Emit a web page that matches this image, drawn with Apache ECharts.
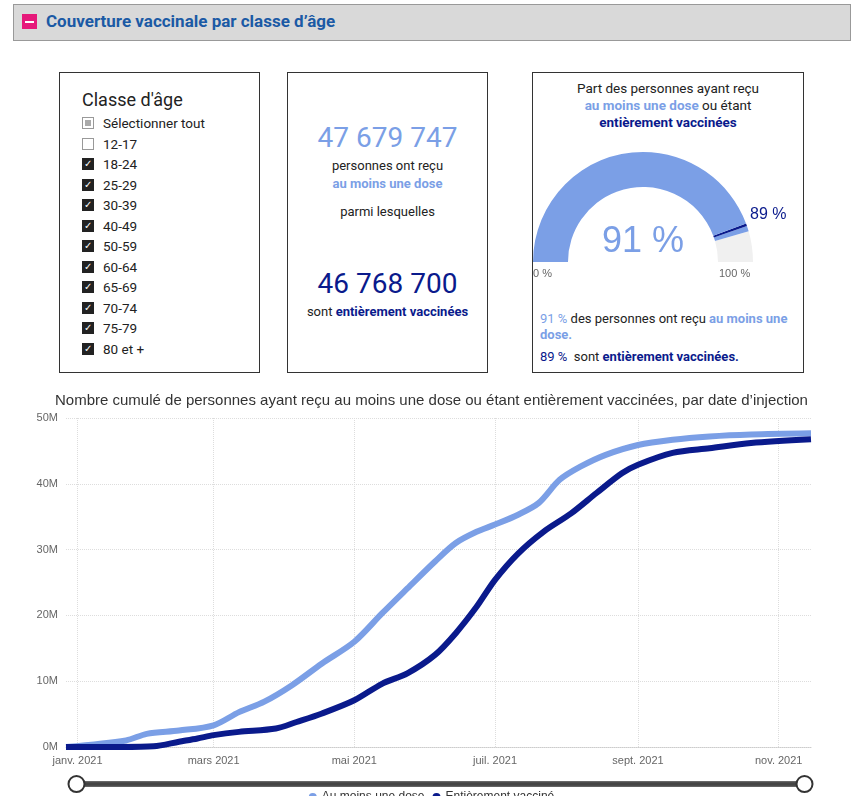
<!DOCTYPE html>
<html><head><meta charset="utf-8">
<script src="https://cdn.jsdelivr.net/npm/echarts@6/dist/echarts.min.js"></script>
<style>
body{margin:0;width:863px;height:796px;overflow:hidden;background:#fff;font-family:Roboto,"Liberation Sans",Arial,sans-serif;position:relative}
.abs{position:absolute}
.box{position:absolute;border:1px solid #333;box-sizing:border-box;background:#fff}
.lb{color:#7b9fe6}.db{color:#0a1a8c}
.cb{display:flex;align-items:center;height:20.5px;font-size:13.5px;color:#222}
.sq{width:12px;height:12px;border:1px solid #999;margin-right:9px;box-sizing:border-box;display:flex;align-items:center;justify-content:center}
.ck{background:#222;border-color:#222;color:#fff;font-size:10px;line-height:10px}
</style></head><body>
<div class="abs" style="left:13px;top:4px;width:838px;height:37px;background:#d9d9d9;border:1px solid #999;box-sizing:border-box"></div>
<div class="abs" style="left:22px;top:14px;width:15px;height:15px;background:#e6197a"><div style="position:absolute;left:3px;top:7px;width:9px;height:1.5px;background:#fff"></div></div>
<div class="abs" style="left:46px;top:11px;font-size:17px;font-weight:bold;color:#1b5aa5">Couverture vaccinale par classe d’âge</div>

<div class="box" style="left:59px;top:72px;width:201px;height:301px"></div>
<div class="abs" style="left:82px;top:89px;font-size:18px;color:#222">Classe d'âge</div>
<div class="abs" id="cbs" style="left:82px;top:113px"></div>

<div class="box" style="left:287px;top:72px;width:201px;height:301px"></div>
<div class="abs" style="left:287px;width:201px;text-align:center;top:121px;font-size:28px" ><span class="lb">47 679 747</span></div>
<div class="abs" style="left:287px;width:201px;text-align:center;top:157px;font-size:13px;color:#222;line-height:18px">personnes ont reçu<br><b class="lb">au moins une dose</b></div>
<div class="abs" style="left:287px;width:201px;text-align:center;top:204px;font-size:13px;color:#222">parmi lesquelles</div>
<div class="abs" style="left:287px;width:201px;text-align:center;top:267px;font-size:28px"><span class="db">46 768 700</span></div>
<div class="abs" style="left:287px;width:201px;text-align:center;top:304px;font-size:13px;color:#222">sont <b class="db">entièrement vaccinées</b></div>

<div class="box" style="left:532px;top:72px;width:272px;height:301px"></div>
<div class="abs" style="left:532px;width:272px;text-align:center;top:80px;font-size:13.5px;color:#222;line-height:17px">Part des personnes ayant reçu<br><b class="lb">au moins une dose</b> ou étant<br><b class="db">entièrement vaccinées</b></div>
<div id="gauge" class="abs" style="left:533px;top:140px;width:270px;height:150px"></div>
<div class="abs" style="left:540px;top:311px;font-size:13px;color:#222;line-height:16px;width:250px"><span class="lb">91 %</span> des personnes ont reçu <b class="lb">au moins une dose.</b></div>
<div class="abs" style="left:540px;top:349px;font-size:13px;color:#222"><span class="db">89 %</span>&nbsp; sont <b class="db">entièrement vaccinées.</b></div>

<div id="chart" class="abs" style="left:0;top:380px;width:863px;height:430px"></div>
<script>
var ageClasses=['12-17','18-24','25-29','30-39','40-49','50-59','60-64','65-69','70-74','75-79','80 et +'];
var ageChecked=[false,true,true,true,true,true,true,true,true,true,true];
var firstDosePct=91, fullPct=89;
var lightDates=['2020-12-27','2021-01-22','2021-01-31','2021-02-14','2021-03-01','2021-03-12','2021-03-23','2021-04-04','2021-04-17','2021-05-01','2021-05-13','2021-05-24','2021-06-05','2021-06-14','2021-06-23','2021-07-01','2021-07-11','2021-07-20','2021-07-29','2021-08-07','2021-08-18','2021-09-01','2021-09-16','2021-10-02','2021-10-20','2021-11-15'];
var lightValues=[0,1.0,2.0,2.5,3.3,5.3,6.9,9.4,12.7,16.0,20.3,24.1,28.2,31.0,32.7,33.8,35.3,37.1,40.6,42.6,44.4,45.9,46.7,47.2,47.5,47.68];
var darkDates=['2020-12-27','2021-01-20','2021-02-03','2021-02-14','2021-02-22','2021-03-01','2021-03-12','2021-03-28','2021-04-06','2021-04-17','2021-05-01','2021-05-13','2021-05-24','2021-06-05','2021-06-14','2021-06-23','2021-07-01','2021-07-11','2021-07-22','2021-08-03','2021-08-14','2021-08-25','2021-09-01','2021-09-16','2021-10-02','2021-10-20','2021-11-15'];
var darkValues=[0,0,0.1,0.8,1.3,1.8,2.3,2.8,3.8,5.1,7.1,9.6,11.2,14.0,17.3,21.3,25.4,29.4,32.7,35.5,38.6,41.6,42.9,44.7,45.4,46.2,46.77];
var monthNames=['janv.','févr.','mars','avr.','mai','juin','juil.','août','sept.','oct.','nov.','déc.'];

var h='<div class="cb"><span class="sq" style="background:#fff"><span style="width:6px;height:6px;background:#aaa;display:block"></span></span>Sélectionner tout</div>';
ageClasses.forEach(function(a,i){h+='<div class="cb"><span class="sq'+(ageChecked[i]?' ck':'')+'">'+(ageChecked[i]?'✓':'')+'</span>'+a+'</div>';});
document.getElementById('cbs').innerHTML=h;

var LB='#7b9fe6', DB='#0a1a8c';
var g=echarts.init(document.getElementById('gauge'));
var f=firstDosePct/100, d=fullPct/100;
g.setOption({series:[{type:'gauge',center:[110,122],radius:110,startAngle:180,endAngle:0,min:0,max:100,
 axisLine:{lineStyle:{width:35,color:[[d-0.004,LB],[d+0.004,DB],[f,LB],[1,'#f0f0f0']]}},
 axisTick:{show:false},splitLine:{show:false},axisLabel:{show:false},pointer:{show:false},
 title:{show:false},detail:{offsetCenter:[0,-20],fontSize:36,fontWeight:300,color:LB,formatter:'{value} %'},
 data:[{value:firstDosePct}]}],
 graphic:[
 {type:'text',left:0,top:128,style:{text:'0 %',fontSize:11,fill:'#666'}},
 {type:'text',left:186,top:128,style:{text:'100 %',fontSize:11,fill:'#666'}},
 {type:'text',left:217,top:67,style:{text:fullPct+' %',fontSize:16,fill:DB}}]});

function fmt(dt){return dt.getFullYear()+'-'+String(dt.getMonth()+1).padStart(2,'0')+'-'+String(dt.getDate()).padStart(2,'0');}
var cats=[];for(var t=new Date(2020,11,27);t<=new Date(2021,10,15);t.setDate(t.getDate()+1))cats.push(fmt(t));
function toSeries(ds,vs){var m={};ds.forEach(function(x,i){m[x]=vs[i]*1e6;});return cats.map(function(c){return c in m?m[c]:null;});}
function isTick(i){var c=cats[i];var mo=+c.slice(5,7);return c.slice(8)==='01'&&mo%2===1;}
var c=echarts.init(document.getElementById('chart'));
c.setOption({
 title:{text:'Nombre cumulé de personnes ayant reçu au moins une dose ou étant entièrement vaccinées, par date d’injection',left:50,top:8,textStyle:{fontSize:15,fontWeight:'normal',color:'#333'}},
 grid:{left:66,right:52,top:38,bottom:63},
 legend:{bottom:2,left:'center',icon:'circle',itemWidth:8,itemHeight:8,textStyle:{fontSize:12,color:'#333'},data:['Au moins une dose','Entièrement vacciné']},
 xAxis:{type:'category',data:cats,boundaryGap:false,axisLine:{lineStyle:{color:'#ccc',type:'dotted'}},axisTick:{show:false},
  axisLabel:{interval:function(i){return isTick(i);},color:'#666',fontSize:11,formatter:function(v){return monthNames[+v.slice(5,7)-1]+' '+v.slice(0,4);}},
  splitLine:{show:true,interval:function(i){return isTick(i);},lineStyle:{color:'#ddd',type:'dotted'}}},
 yAxis:{type:'value',min:0,max:50e6,interval:10e6,axisLabel:{color:'#666',fontSize:11,formatter:function(v){return (v/1e6)+'M';}},
  splitLine:{lineStyle:{color:'#ddd',type:'dotted'}}},
 dataZoom:[{type:'slider',bottom:25,left:73,right:60,height:5,backgroundColor:'#555',fillerColor:'#444',borderColor:'#555',
  dataBackground:{lineStyle:{opacity:0},areaStyle:{opacity:0}},selectedDataBackground:{lineStyle:{opacity:0},areaStyle:{opacity:0}},
  handleIcon:'circle',handleSize:16,handleStyle:{color:'#fff',borderColor:'#333',borderWidth:2},moveHandleSize:0,showDetail:false,brushSelect:false}],
 series:[
  {name:'Au moins une dose',type:'line',data:toSeries(lightDates,lightValues),connectNulls:true,smooth:0.3,showSymbol:false,lineStyle:{width:6,color:LB},itemStyle:{color:LB}},
  {name:'Entièrement vacciné',type:'line',data:toSeries(darkDates,darkValues),connectNulls:true,smooth:0.3,showSymbol:false,lineStyle:{width:6,color:DB},itemStyle:{color:DB}}]
});
</script></body></html>
